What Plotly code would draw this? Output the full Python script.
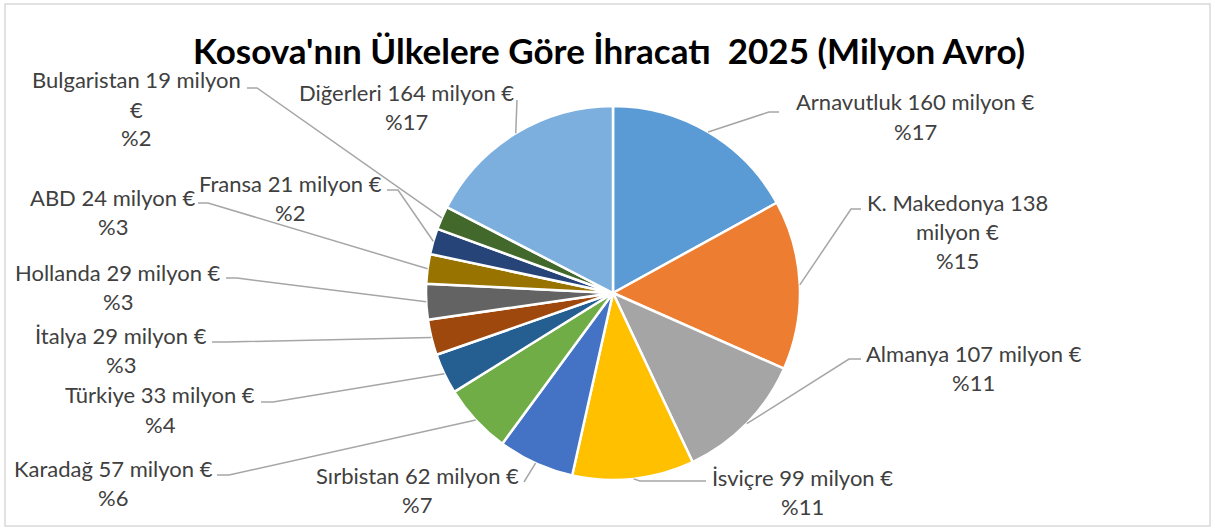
import math
import plotly.graph_objects as go

# ---- data ----
countries = ["Arnavutluk", "K. Makedonya", "Almanya", "İsviçre", "Sırbistan", "Karadağ",
             "Türkiye", "İtalya", "Hollanda", "ABD", "Fransa", "Bulgaristan", "Diğerleri"]
values = [160, 138, 107, 99, 62, 57, 33, 29, 29, 24, 21, 19, 164]
colors = ["#5B9BD5", "#ED7D31", "#A5A5A5", "#FFC000", "#4472C4", "#70AD47", "#255E91",
          "#9E480E", "#636363", "#997300", "#264478", "#43682B", "#7CAFDD"]
title_text = "Kosova'nın Ülkelere Göre İhracatı  2025 (Milyon Avro)"

# ---- layout (pixels) ----
W, H = 1215, 530
CX, CY, R = 613, 293, 187
# label: center x, y of first line, words on first line (None = no wrap)
label_pos = [(915, 102, None), (957, 202, 3), (974, 353, None), (802, 477, None),
             (417, 475, None), (113, 468, None), (160, 395, None), (121, 335, None),
             (118, 272, None), (113, 197, None), (290, 183, None), (136, 80, 3),
             (406, 93, None)]
# leader: elbow point (or None), end point near text
leader_pts = [((769, 112), (779, 112)), ((851, 209), (861, 209)), ((849, 359), (861, 359)),
              ((640, 481), (706, 481)), (None, (524, 482)), ((229, 475), (217, 475)),
              ((273, 402), (261, 402)), ((227, 342), (212, 342)), ((237, 278), (226, 278)),
              ((208, 203), (198, 203)), ((398, 190), (387, 190)), ((257, 88), (247, 88)),
              (None, (517, 100))]
LINE_GAP = 29
FONT = "Lato"


def px(x):
    return x / W


def py(y):
    return 1 - y / H


fig = go.Figure(go.Pie(
    labels=countries, values=values, sort=False, direction="clockwise", rotation=0,
    marker=dict(colors=colors, line=dict(color="white", width=2.5)),
    textinfo="none", hoverinfo="label+value+percent", showlegend=False,
    domain=dict(x=[px(CX - R), px(CX + R)], y=[py(CY + R), py(CY - R)]),
))

total = sum(values)
annotations = []
shapes = []
cum = 0
for name, v, (lx, ly, wrap), (elbow, end) in zip(countries, values, label_pos, leader_pts):
    mid = (cum + v / 2) / total * 2 * math.pi
    cum += v
    sx = CX + R * math.sin(mid)
    sy = CY - R * math.cos(mid)
    words = f"{name} {v} milyon €".split(" ")
    if wrap:
        lines = [" ".join(words[:wrap]), " ".join(words[wrap:])]
    else:
        lines = [" ".join(words)]
    lines.append(f"%{round(v / total * 100)}")
    for i, t in enumerate(lines):
        annotations.append(dict(
            x=px(lx), y=py(ly + i * LINE_GAP), xref="paper", yref="paper",
            text=t, showarrow=False, xanchor="center", yanchor="middle",
            font=dict(family=FONT, size=22, color="#404040")))
    pts = [(sx, sy)] + ([elbow] if elbow else []) + [end]
    path = "M " + " L ".join(f"{px(a):.5f},{py(b):.5f}" for a, b in pts)
    shapes.append(dict(type="path", path=path, xref="paper", yref="paper",
                       line=dict(color="#A6A6A6", width=1.5)))

shapes.append(dict(type="rect", xref="paper", yref="paper",
                   x0=px(5), x1=px(1210), y0=py(526), y1=py(4),
                   line=dict(color="#D9D9D9", width=1.5), layer="below"))

annotations.append(dict(
    x=px(609), y=py(50), xref="paper", yref="paper", text=f"<b>{title_text}</b>",
    showarrow=False, xanchor="center", yanchor="middle",
    font=dict(family=FONT, size=35, color="#000000")))

fig.update_layout(
    width=W, height=H, margin=dict(l=0, r=0, t=0, b=0),
    paper_bgcolor="white", plot_bgcolor="white",
    annotations=annotations, shapes=shapes,
)

fig.write_html("out.html", config={"displayModeBar": False},
               post_script="document.body.style.margin='0';")
